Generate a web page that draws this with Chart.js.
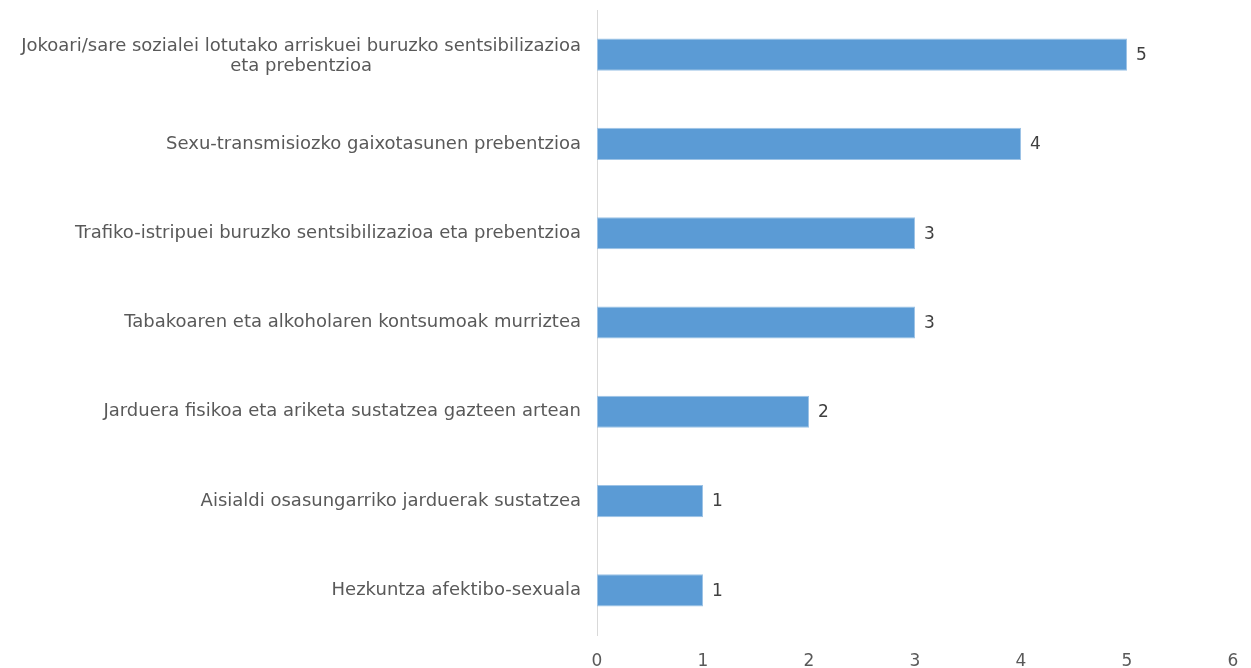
<!DOCTYPE html>
<html>
<head>
<meta charset="utf-8">
<script src="https://cdn.jsdelivr.net/npm/chart.js@4"></script>
<style>
  html, body { margin: 0; padding: 0; background: #fff; }
  #wrap { width: 1251px; height: 668px; }
</style>
</head>
<body>
<div id="wrap"><canvas id="chart" width="1251" height="668"></canvas></div>
<script>
const categories = [
    ['Jokoari/sare sozialei lotutako arriskuei buruzko sentsibilizazioa', 'eta prebentzioa'],
    'Sexu-transmisiozko gaixotasunen prebentzioa',
    'Trafiko-istripuei buruzko sentsibilizazioa eta prebentzioa',
    'Tabakoaren eta alkoholaren kontsumoak murriztea',
    'Jarduera fisikoa eta ariketa sustatzea gazteen artean',
    'Aisialdi osasungarriko jarduerak sustatzea',
    'Hezkuntza afektibo-sexuala'
];
const values = [5, 4, 3, 3, 2, 1, 1];
const xTicks = [0, 1, 2, 3, 4, 5, 6];

const FONT = "'DejaVu Sans', Verdana, sans-serif";

// category labels: right aligned, wrapped lines centered on each other (like Excel)
const categoryLabels = {
    id: 'categoryLabels',
    afterDraw(chart) {
        const { ctx } = chart;
        const yScale = chart.scales.y;
        const right = yScale.right - 16;
        const lineH = 20;
        ctx.save();
        ctx.font = '18px ' + FONT;
        ctx.fillStyle = '#595959';
        ctx.textBaseline = 'middle';
        categories.forEach((label, i) => {
            const y = yScale.getPixelForTick(i);
            if (Array.isArray(label)) {
                const maxW = Math.max(...label.map(l => ctx.measureText(l).width));
                const cx = right - maxW / 2;
                const top = y - (label.length - 1) * lineH / 2 + 2;
                ctx.textAlign = 'center';
                label.forEach((line, j) => ctx.fillText(line, cx, top + j * lineH));
            } else {
                ctx.textAlign = 'right';
                ctx.fillText(label, right, y);
            }
        });
        ctx.restore();
    }
};

// value labels at the end of each bar
const valueLabels = {
    id: 'valueLabels',
    afterDatasetsDraw(chart) {
        const { ctx } = chart;
        const meta = chart.getDatasetMeta(0);
        ctx.save();
        ctx.font = '17px ' + FONT;
        ctx.fillStyle = '#404040';
        ctx.textAlign = 'left';
        ctx.textBaseline = 'middle';
        meta.data.forEach((bar, i) => {
            ctx.fillText(String(values[i]), bar.x + 9, bar.y + 1);
        });
        ctx.restore();
    }
};

new Chart(document.getElementById('chart').getContext('2d'), {
    type: 'bar',
    data: {
        labels: categories,
        datasets: [{
            data: values,
            backgroundColor: '#5b9bd5',
            borderColor: '#9dc3e6',
            borderWidth: 1,
            borderSkipped: false,
            categoryPercentage: 1,
            barPercentage: 0.36
        }]
    },
    options: {
        indexAxis: 'y',
        responsive: false,
        animation: false,
        layout: { padding: { top: 10, right: 18, left: 0, bottom: 0 } },
        scales: {
            x: {
                min: 0,
                max: 6,
                afterBuildTicks: (scale) => { scale.ticks = xTicks.map(v => ({ value: v })); },
                grid: { display: false, drawTicks: false },
                border: { display: false },
                ticks: {
                    padding: 16,
                    color: '#595959',
                    font: { family: FONT, size: 17 }
                },
                afterFit: (scale) => {
                    scale.height = 33;
                    scale.paddingLeft = 0;
                    scale.paddingRight = 0;
                }
            },
            y: {
                grid: { display: false, drawTicks: false },
                border: { display: true, color: '#d9d9d9', width: 1 },
                ticks: { display: false },
                afterFit: (scale) => {
                    scale.width = 597;
                    scale.paddingTop = 0;
                    scale.paddingBottom = 0;
                }
            }
        },
        plugins: {
            legend: { display: false },
            tooltip: { enabled: false }
        }
    },
    plugins: [valueLabels, categoryLabels]
});
</script>
</body>
</html>
